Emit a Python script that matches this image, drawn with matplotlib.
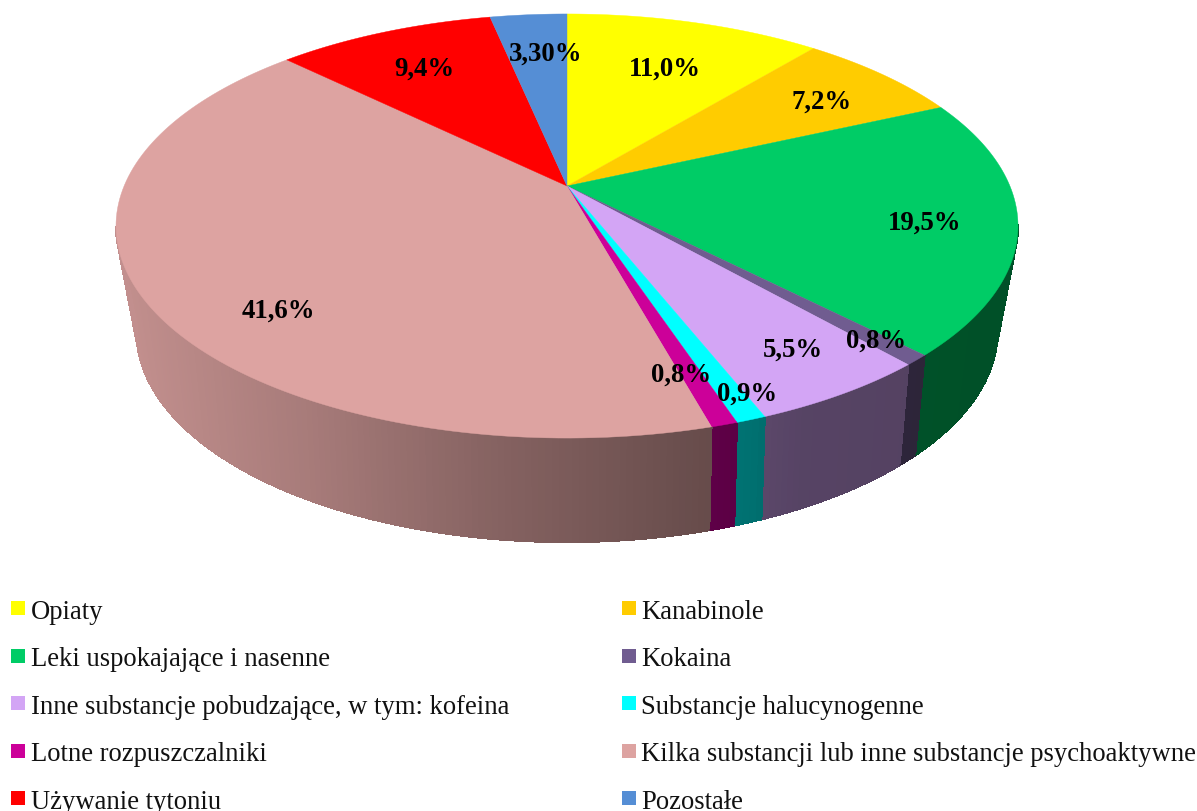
import numpy as np
import matplotlib
matplotlib.use('Agg')
import matplotlib.pyplot as plt
from matplotlib.colors import to_rgb

# dane
categories = ['Opiaty', 'Kanabinole', 'Leki uspokajające i nasenne', 'Kokaina',
              'Inne substancje pobudzające, w tym: kofeina', 'Substancje halucynogenne',
              'Lotne rozpuszczalniki', 'Kilka substancji lub inne substancje psychoaktywne',
              'Używanie tytoniu', 'Pozostałe']
values = [11.0, 7.2, 19.5, 0.8, 5.5, 0.9, 0.8, 41.6, 9.4, 3.3]
labels = ['11,0%', '7,2%', '19,5%', '0,8%', '5,5%', '0,9%', '0,8%', '41,6%', '9,4%', '3,30%']
colors = ['#FFFF00', '#FFCC00', '#00CC66', '#705C90', '#D3A5F5',
          '#00FFFF', '#CC0099', '#DDA3A1', '#FF0000', '#558ED5']

# srodki etykiet w pikselach
label_x = [665, 822, 925, 876, 793, 747, 681, 278, 424, 546]
label_y = [69, 102, 223, 341, 350, 394, 375, 311, 69, 54]


def top_face(theta):
    # gorna elipsa z perspektywa
    w = 1 + 0.1887 * np.cos(theta)
    return 567 + 442.9 * np.sin(theta) / w, 187 - 204.5 * np.cos(theta) / w


def bottom_face(theta):
    w = 1 + 0.22 * np.cos(theta)
    return 567 + 420 * np.sin(theta) / w, 286 - 200.5 * np.cos(theta) / w


def shade(x):
    return np.interp(x, [116, 300, 500, 700, 800, 1018], [0.88, 0.76, 0.60, 0.47, 0.41, 0.39])


fig = plt.figure(figsize=(11.97, 8.12), dpi=100)
ax = fig.add_axes([0, 0, 1, 1])
ax.set_xlim(0, 1197)
ax.set_ylim(812, 0)
ax.axis('off')

edges = np.cumsum([0] + values) / sum(values) * 2 * np.pi

# boczna sciana, tylko widoczna czesc
for i, col in enumerate(colors):
    n = max(3, int((edges[i + 1] - edges[i]) * 80))
    th = np.linspace(edges[i], edges[i + 1], n + 1)
    for a, b in zip(th[:-1], th[1:]):
        if np.cos((a + b) / 2) > -0.19:
            continue
        xt1, yt1 = top_face(a)
        xt2, yt2 = top_face(b)
        xb1, yb1 = bottom_face(a)
        xb2, yb2 = bottom_face(b)
        c = np.array(to_rgb(col)) * shade((xt1 + xt2) / 2)
        ax.fill([xt1, xt2, xb2, xb1], [yt1, yt2, yb2, yb1], color=c, lw=0.8,
                antialiased=False, zorder=1)
        # wygladzenie dolnej krawedzi
        ax.plot([xb1, xb2], [yb1, yb2], color=c, lw=0.9, solid_capstyle='round', zorder=1.5)

# gorna powierzchnia
for i, col in enumerate(colors):
    th = np.linspace(edges[i], edges[i + 1], 120)
    xs, ys = top_face(th)
    ax.fill(np.r_[567, xs], np.r_[187, ys], color=col, lw=0.3, zorder=2)

for x, y, t in zip(label_x, label_y, labels):
    ax.text(x, y, t, family='Liberation Serif', weight='bold', fontsize=19.3,
            ha='center', va='center', color='black', zorder=3)

# legenda
for i, (name, col) in enumerate(zip(categories, colors)):
    row = i // 2
    sx = 622 if i % 2 else 11
    tx = 641 if i % 2 else 31
    base = 619 + row * 47.5
    ax.fill([sx, sx + 14, sx + 14, sx], [base - 17, base - 17, base - 3, base - 3], color=col, lw=0)
    ax.text(tx, base, name, family='Liberation Serif', fontsize=19.15,
            ha='left', va='baseline', color='#111111')

fig.savefig('out.png', dpi=100)
